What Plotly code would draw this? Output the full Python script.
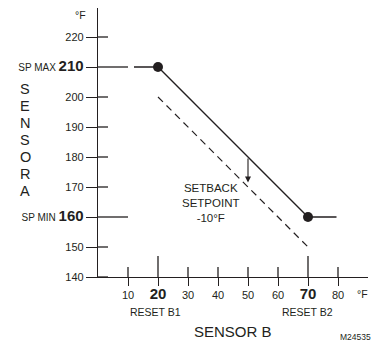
import numpy as np
import plotly.graph_objects as go

# ---- data ----
x_ticks = [10, 20, 30, 40, 50, 60, 70, 80]
x_tick_labels = ["10", "20", "30", "40", "50", "60", "70", "80"]
y_ticks = [140, 150, 160, 170, 180, 190, 200, 210, 220]
y_tick_labels = ["140", "150", "160", "170", "180", "190", "200", "210", "220"]
sp_max = 210
sp_min = 160
reset_b1 = 20
reset_b2 = 70
curve_x = [12, 20, 70, 79.5]
curve_y = [210, 210, 160, 160]
setback_x = [20, 70]
setback_y = [200, 150]
setback = -10
arrow_x = 50
sensor_a_letters = ["S", "E", "N", "S", "O", "R", "A"]

INK = "#231f20"
FONT = "Liberation Sans, Arial, sans-serif"

X_RANGE = [0, 90]
Y_RANGE = [140, 140 + 269 / 3]


def px_(x):
    return (x - X_RANGE[0]) / (X_RANGE[1] - X_RANGE[0])


def py_(y):
    return (y - Y_RANGE[0]) / (Y_RANGE[1] - Y_RANGE[0])


big = lambda s: "<b><span style='font-size:15px'>%s</span></b>" % s
xt_text = [big(t) if v in (reset_b1, reset_b2) else t for v, t in zip(x_ticks, x_tick_labels)]
yt_text = []
for v, t in zip(y_ticks, y_tick_labels):
    if v == sp_max:
        yt_text.append("<span style='font-size:10px'>SP MAX </span>" + big(t))
    elif v == sp_min:
        yt_text.append("<span style='font-size:10px'>SP MIN </span>" + big(t))
    else:
        yt_text.append(t)

fig = go.Figure()
fig.add_trace(go.Scatter(x=setback_x, y=setback_y, mode="lines",
                         line=dict(color=INK, width=1.2, dash="7px,5px"),
                         cliponaxis=False, hoverinfo="skip"))
fig.add_trace(go.Scatter(x=curve_x, y=curve_y, mode="lines",
                         line=dict(color=INK, width=1.3), cliponaxis=False, hoverinfo="skip"))
fig.add_trace(go.Scatter(x=[reset_b1, reset_b2], y=[sp_max, sp_min], mode="markers",
                         marker=dict(color=INK, size=10), cliponaxis=False, hoverinfo="skip"))

shapes = []
# inside (upward) parts of x ticks
for v in x_ticks:
    L = 21 if v in (reset_b1, reset_b2) else 10
    shapes.append(dict(type="line", xref="x", yref="y", x0=v, x1=v,
                       ysizemode="pixel", yanchor=y_ticks[0], y0=0, y1=L,
                       line=dict(color=INK, width=1.3)))
# inside (rightward) parts of y ticks
for v in y_ticks:
    L = 30 if v in (sp_max, sp_min) else 10
    shapes.append(dict(type="line", xref="x", yref="y", y0=v, y1=v,
                       xsizemode="pixel", xanchor=0, x0=0, x1=L,
                       line=dict(color=INK, width=1.3)))


def note(x, y, text, size, **kw):
    d = dict(x=px_(x), y=py_(y), xref="paper", yref="paper", showarrow=False, text=text,
             xanchor="center", yanchor="middle",
             font=dict(size=size, color=INK, family=FONT))
    d.update(kw)
    return d


arrow_top = float(np.interp(arrow_x, curve_x, curve_y))
annotations = [
    dict(x=arrow_x, y=arrow_top + setback + 1.5, ax=arrow_x, ay=arrow_top,
         xref="x", yref="y", axref="x", ayref="y", text="", showarrow=True,
         arrowhead=2, arrowsize=1.1, arrowwidth=1.1, arrowcolor=INK),
    note(37.5, 164.7, "SETBACK<br>SETPOINT<br>%d°F" % setback, 11.5),
    note(-6, 227.3, "°F", 10.5),
    note(88, 134.3, "°F", 10.5),
    note(reset_b1 - 1, 128.3, "RESET B1", 10.5),
    note(reset_b2 - 0.3, 128.3, "RESET B2", 10.5),
    note(45, 121.7, "SENSOR B", 15),
    note(91.8, 120, "M24535", 8.5, xanchor="right"),
]
for i, ch in enumerate(sensor_a_letters):
    annotations.append(note(-24.3, 202.7 - i * 17 / 3, ch, 14.5))

# The page body has an 8px margin, so the figure is 8px smaller and offset accordingly.
fig.update_layout(
    template="none",
    width=373, height=334, autosize=False,
    margin=dict(l=90, r=13, t=0, b=65, pad=0),
    paper_bgcolor="white", plot_bgcolor="white",
    showlegend=False,
    font=dict(family=FONT, color=INK),
    shapes=shapes, annotations=annotations,
    xaxis=dict(range=X_RANGE, automargin=False, showline=True, linecolor=INK, linewidth=1.3,
               showgrid=False, zeroline=False, ticks="outside", ticklen=8,
               tickwidth=1.3, tickcolor=INK, tickvals=x_ticks, ticktext=xt_text,
               tickfont=dict(size=11, color=INK, family=FONT), fixedrange=True),
    yaxis=dict(range=Y_RANGE, automargin=False, showline=True, linecolor=INK, linewidth=1.3,
               showgrid=False, zeroline=False, ticks="outside", ticklen=11,
               tickwidth=1.3, tickcolor=INK, tickvals=y_ticks, ticktext=yt_text,
               tickfont=dict(size=11, color=INK, family=FONT), fixedrange=True),
)

fig.write_html("out.html")
